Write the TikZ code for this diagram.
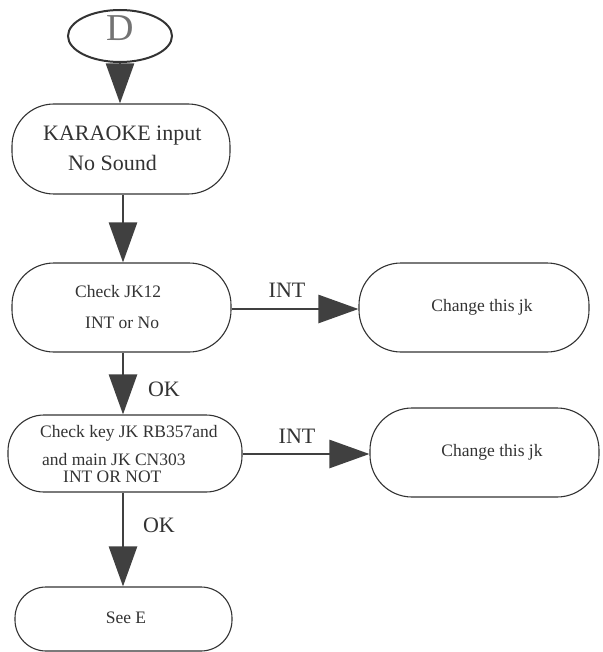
\documentclass[tikz,border=0pt]{standalone}
\usepackage{fontspec}
\setmainfont{Liberation Serif}
\newfontfamily\tms{Liberation Serif}
\usetikzlibrary{arrows.meta,shapes.geometric}
\definecolor{ink}{HTML}{333333}
\definecolor{arrc}{HTML}{404040}
\tikzset{
  flowbox/.style={draw=ink, line width=1.1pt, rounded corners=#1, inner sep=0pt, fill=white},
  flowbox/.default=40pt,
  arr/.style={draw=arrc, line width=2.6pt, -{Triangle[length=40pt,width=28pt]}},
  harr/.style={draw=arrc, line width=2.6pt, -{Triangle[length=40pt,width=28pt]}},
  big/.style={font=\tms\fontsize{22}{26}\selectfont, text=ink, inner sep=0pt, text height=0.66em, text depth=0pt},
  small/.style={font=\tms\fontsize{17.5}{21}\selectfont, text=ink, inner sep=0pt, text height=0.66em, text depth=0pt},
}
\begin{document}
\begin{tikzpicture}[x=1pt,y=-1pt]
\useasboundingbox (0,0) rectangle (602,652);
% nodes
\node[ellipse, draw=ink, line width=2pt, minimum width=104pt, minimum height=52pt, inner sep=0pt] (d) at (120,36) {};
\node[font=\tms\fontsize{38}{40}\selectfont, text=black!55, inner sep=0pt, text height=0.66em, text depth=0pt] (dt) at (120,37.5) {D};

\node[flowbox=42pt, minimum width=218pt, minimum height=90pt] (b1) at (121,149) {};
\node[big, anchor=west] (b1a) at (43,137) {KARAOKE input};
\node[big, anchor=west] (b1b) at (68,167) {No Sound};

\node[flowbox=42pt, minimum width=219pt, minimum height=89pt] (b2) at (121.5,307.5) {};
\node[small, anchor=west] (b2a) at (75,294) {Check JK12};
\node[small, anchor=west] (b2b) at (85,325) {INT or No};

\node[flowbox=42pt, minimum width=230pt, minimum height=89pt] (b3) at (474,307.5) {};
\node[small] (b3a) at (482,308) {Change this jk};

\node[flowbox=36pt, minimum width=234pt, minimum height=77pt] (b4) at (125,453.5) {};
\node[small, anchor=west] (b4a) at (40,434) {Check key JK RB357and};
\node[small, anchor=west] (b4b) at (42,462) {and main JK CN303};
\node[small, anchor=west] (b4c) at (63,479.5) {INT OR NOT};

\node[flowbox=42pt, minimum width=229pt, minimum height=89pt] (b5) at (484.5,452.5) {};
\node[small] (b5a) at (492,453) {Change this jk};

\node[flowbox=31pt, minimum width=217pt, minimum height=64pt] (b6) at (123.5,619) {};
\node[small] (b6a) at (126,620) {See E};

% connectors
\draw[arr] (d.south) -- (d.south |- b1.north);
\draw[arr] ([xshift=2pt]b1.south) -- ([xshift=2pt]b1.south |- b2.north);
\draw[harr] ([yshift=-1.5pt]b2.east) -- ([yshift=-1.5pt]b2.east -| b3.west);
\draw[arr] ([xshift=1.5pt]b2.south) -- ([xshift=1.5pt]b2.south |- b4.north);
\draw[harr] ([yshift=-0.5pt]b4.east) -- ([yshift=-0.5pt]b4.east -| b5.west);
\draw[arr] ([xshift=-2pt]b4.south) -- ([xshift=-2pt]b4.south |- b6.north);

% labels
\node[big] (l1) at (287,294) {INT};
\node[big] (l2) at (297,440) {INT};
\node[big] (l3) at (164,393) {OK};
\node[big] (l4) at (159,529) {OK};
\end{tikzpicture}
\end{document}
